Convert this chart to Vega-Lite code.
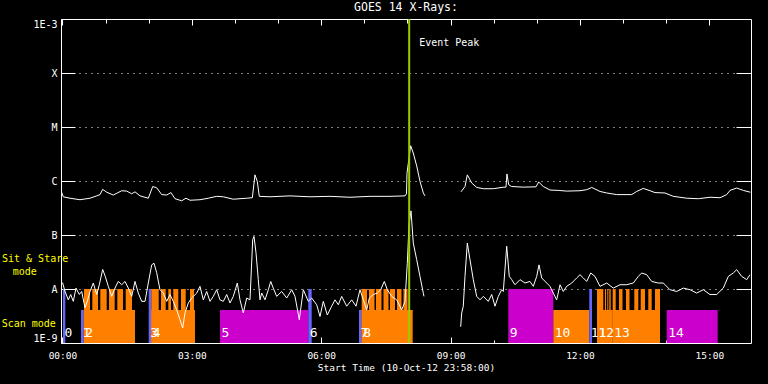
{
 "$schema": "https://vega.github.io/schema/vega-lite/v6.json",
 "width": 690,
 "height": 324,
 "autosize": {"type": "none"},
 "padding": {"left": 61, "top": 19, "right": 17, "bottom": 41},
 "background": "black",
 "title": {"text": "GOES 14 X-Rays:", "color": "white", "font": "DejaVu Sans Mono", "fontSize": 11.5, "fontWeight": "normal", "anchor": "middle", "offset": 5},
 "config": {
  "view": {"stroke": "white", "strokeWidth": 1},
  "axis": {"domain": false, "labelColor": "white", "tickColor": "white", "titleColor": "white", "labelFont": "DejaVu Sans Mono", "titleFont": "DejaVu Sans Mono", "titleFontWeight": "normal", "grid": false, "tickWidth": 1, "labelOverlap": false}
 },
 "datasets": {
  "bars": [
   {"obs": 0, "start": "2012-10-11T00:00:47Z", "end": "2012-10-11T00:03:59Z", "kind": "T3", "level": 1e-8},
   {"obs": 1, "start": "2012-10-11T00:25:50Z", "end": "2012-10-11T00:29:35Z", "kind": "T3", "level": 4.1e-9},
   {"obs": 2, "start": "2012-10-11T00:29:35Z", "end": "2012-10-11T01:40:58Z", "kind": "T1", "level": 4.1e-9},
   {"obs": 2, "start": "2012-10-11T00:30:00Z", "end": "2012-10-11T00:38:21Z", "kind": "T1", "level": 1e-8},
   {"obs": 2, "start": "2012-10-11T00:41:33Z", "end": "2012-10-11T00:49:29Z", "kind": "T1", "level": 1e-8},
   {"obs": 2, "start": "2012-10-11T00:52:41Z", "end": "2012-10-11T01:01:35Z", "kind": "T1", "level": 1e-8},
   {"obs": 2, "start": "2012-10-11T01:04:47Z", "end": "2012-10-11T01:12:43Z", "kind": "T1", "level": 1e-8},
   {"obs": 2, "start": "2012-10-11T01:16:20Z", "end": "2012-10-11T01:24:16Z", "kind": "T1", "level": 1e-8},
   {"obs": 2, "start": "2012-10-11T01:28:01Z", "end": "2012-10-11T01:36:47Z", "kind": "T1", "level": 1e-8},
   {"obs": 3, "start": "2012-10-11T02:00:01Z", "end": "2012-10-11T02:03:38Z", "kind": "T3", "level": 1e-8},
   {"obs": 4, "start": "2012-10-11T02:03:38Z", "end": "2012-10-11T03:04:26Z", "kind": "T1", "level": 4.1e-9},
   {"obs": 4, "start": "2012-10-11T02:03:38Z", "end": "2012-10-11T02:13:56Z", "kind": "T1", "level": 1e-8},
   {"obs": 4, "start": "2012-10-11T02:17:08Z", "end": "2012-10-11T02:23:40Z", "kind": "T1", "level": 1e-8},
   {"obs": 4, "start": "2012-10-11T02:27:17Z", "end": "2012-10-11T02:31:03Z", "kind": "T1", "level": 1e-8},
   {"obs": 4, "start": "2012-10-11T02:34:14Z", "end": "2012-10-11T02:41:12Z", "kind": "T1", "level": 1e-8},
   {"obs": 4, "start": "2012-10-11T02:44:57Z", "end": "2012-10-11T02:51:30Z", "kind": "T1", "level": 1e-8},
   {"obs": 4, "start": "2012-10-11T02:57:29Z", "end": "2012-10-11T03:03:03Z", "kind": "T1", "level": 1e-8},
   {"obs": 5, "start": "2012-10-11T03:39:13Z", "end": "2012-10-11T05:42:04Z", "kind": "T2", "level": 4.1e-9},
   {"obs": 6, "start": "2012-10-11T05:42:04Z", "end": "2012-10-11T05:46:48Z", "kind": "T3", "level": 1e-8},
   {"obs": 7, "start": "2012-10-11T06:52:37Z", "end": "2012-10-11T06:56:22Z", "kind": "T3", "level": 4.1e-9},
   {"obs": 8, "start": "2012-10-11T06:56:22Z", "end": "2012-10-11T08:07:19Z", "kind": "T1", "level": 4.1e-9},
   {"obs": 8, "start": "2012-10-11T06:56:22Z", "end": "2012-10-11T07:03:44Z", "kind": "T1", "level": 1e-8},
   {"obs": 8, "start": "2012-10-11T07:06:31Z", "end": "2012-10-11T07:14:10Z", "kind": "T1", "level": 1e-8},
   {"obs": 8, "start": "2012-10-11T07:16:16Z", "end": "2012-10-11T07:23:55Z", "kind": "T1", "level": 1e-8},
   {"obs": 8, "start": "2012-10-11T07:26:41Z", "end": "2012-10-11T07:33:39Z", "kind": "T1", "level": 1e-8},
   {"obs": 8, "start": "2012-10-11T07:35:44Z", "end": "2012-10-11T07:42:41Z", "kind": "T1", "level": 1e-8},
   {"obs": 8, "start": "2012-10-11T07:45:29Z", "end": "2012-10-11T07:51:44Z", "kind": "T1", "level": 1e-8},
   {"obs": 8, "start": "2012-10-11T07:54:31Z", "end": "2012-10-11T08:00:05Z", "kind": "T1", "level": 1e-8},
   {"obs": 9, "start": "2012-10-11T10:20:20Z", "end": "2012-10-11T11:22:56Z", "kind": "T2", "level": 1e-8},
   {"obs": 10, "start": "2012-10-11T11:22:56Z", "end": "2012-10-11T12:13:01Z", "kind": "T1", "level": 4.1e-9},
   {"obs": 11, "start": "2012-10-11T12:13:01Z", "end": "2012-10-11T12:16:47Z", "kind": "T3", "level": 1e-8},
   {"obs": 12, "start": "2012-10-11T12:23:44Z", "end": "2012-10-11T12:45:35Z", "kind": "T1", "level": 4.1e-9},
   {"obs": 12, "start": "2012-10-11T12:23:44Z", "end": "2012-10-11T12:32:30Z", "kind": "T1", "level": 1e-8},
   {"obs": 12, "start": "2012-10-11T12:34:52Z", "end": "2012-10-11T12:36:16Z", "kind": "T1", "level": 1e-8},
   {"obs": 12, "start": "2012-10-11T12:38:04Z", "end": "2012-10-11T12:39:28Z", "kind": "T1", "level": 1e-8},
   {"obs": 12, "start": "2012-10-11T12:40:51Z", "end": "2012-10-11T12:42:48Z", "kind": "T1", "level": 1e-8},
   {"obs": 13, "start": "2012-10-11T12:45:35Z", "end": "2012-10-11T13:51:23Z", "kind": "T1", "level": 4.1e-9},
   {"obs": 13, "start": "2012-10-11T12:45:35Z", "end": "2012-10-11T12:49:45Z", "kind": "T1", "level": 1e-8},
   {"obs": 13, "start": "2012-10-11T12:54:21Z", "end": "2012-10-11T12:59:13Z", "kind": "T1", "level": 1e-8},
   {"obs": 13, "start": "2012-10-11T13:04:05Z", "end": "2012-10-11T13:08:57Z", "kind": "T1", "level": 1e-8},
   {"obs": 13, "start": "2012-10-11T13:15:38Z", "end": "2012-10-11T13:21:12Z", "kind": "T1", "level": 1e-8},
   {"obs": 13, "start": "2012-10-11T13:24:32Z", "end": "2012-10-11T13:30:31Z", "kind": "T1", "level": 1e-8},
   {"obs": 13, "start": "2012-10-11T13:35:07Z", "end": "2012-10-11T13:39:50Z", "kind": "T1", "level": 1e-8},
   {"obs": 13, "start": "2012-10-11T13:44:26Z", "end": "2012-10-11T13:51:23Z", "kind": "T1", "level": 1e-8},
   {"obs": 14, "start": "2012-10-11T14:00:43Z", "end": "2012-10-11T15:11:40Z", "kind": "T2", "level": 4.1e-9}
  ],
  "obslabels": [
   {"n": "0", "time": "2012-10-11T00:00:47Z"},
   {"n": "1", "time": "2012-10-11T00:25:50Z"},
   {"n": "2", "time": "2012-10-11T00:29:35Z"},
   {"n": "3", "time": "2012-10-11T02:00:01Z"},
   {"n": "4", "time": "2012-10-11T02:03:38Z"},
   {"n": "5", "time": "2012-10-11T03:39:13Z"},
   {"n": "6", "time": "2012-10-11T05:42:04Z"},
   {"n": "7", "time": "2012-10-11T06:52:37Z"},
   {"n": "8", "time": "2012-10-11T06:56:22Z"},
   {"n": "9", "time": "2012-10-11T10:20:20Z"},
   {"n": "10", "time": "2012-10-11T11:22:56Z"},
   {"n": "11", "time": "2012-10-11T12:13:01Z"},
   {"n": "12", "time": "2012-10-11T12:23:44Z"},
   {"n": "13", "time": "2012-10-11T12:45:35Z"},
   {"n": "14", "time": "2012-10-11T14:00:43Z"}
  ],
  "peak": [{"label": "Event Peak", "time": "2012-10-11T08:02:26Z"}],
  "modes": [
   {"label": "Sit & Stare", "time": "2012-10-10T22:35:54Z", "flux": 3.6e-8},
   {"label": "mode", "time": "2012-10-10T22:50:48Z", "flux": 2.1e-8},
   {"label": "Scan mode", "time": "2012-10-10T22:35:30Z", "flux": 2.25e-9}
  ],
  "xray": [
   {"band": "long", "seg": 1, "time": "2012-10-10T23:58:00Z", "flux": 6.6e-7},
   {"band": "long", "seg": 1, "time": "2012-10-11T00:01:12Z", "flux": 5.1e-7},
   {"band": "long", "seg": 1, "time": "2012-10-11T00:10:30Z", "flux": 4.8e-7},
   {"band": "long", "seg": 1, "time": "2012-10-11T00:24:24Z", "flux": 4.5e-7},
   {"band": "long", "seg": 1, "time": "2012-10-11T00:38:18Z", "flux": 4.8e-7},
   {"band": "long", "seg": 1, "time": "2012-10-11T00:47:42Z", "flux": 5.3e-7},
   {"band": "long", "seg": 1, "time": "2012-10-11T00:52:18Z", "flux": 5.6e-7},
   {"band": "long", "seg": 1, "time": "2012-10-11T00:56:00Z", "flux": 7.0e-7},
   {"band": "long", "seg": 1, "time": "2012-10-11T01:01:36Z", "flux": 6.2e-7},
   {"band": "long", "seg": 1, "time": "2012-10-11T01:10:48Z", "flux": 5.5e-7},
   {"band": "long", "seg": 1, "time": "2012-10-11T01:22:30Z", "flux": 6.6e-7},
   {"band": "long", "seg": 1, "time": "2012-10-11T01:29:24Z", "flux": 6.5e-7},
   {"band": "long", "seg": 1, "time": "2012-10-11T01:36:24Z", "flux": 5.8e-7},
   {"band": "long", "seg": 1, "time": "2012-10-11T01:41:00Z", "flux": 6.3e-7},
   {"band": "long", "seg": 1, "time": "2012-10-11T01:47:54Z", "flux": 5.3e-7},
   {"band": "long", "seg": 1, "time": "2012-10-11T01:59:30Z", "flux": 4.8e-7},
   {"band": "long", "seg": 1, "time": "2012-10-11T02:05:36Z", "flux": 7.9e-7},
   {"band": "long", "seg": 1, "time": "2012-10-11T02:11:06Z", "flux": 7.5e-7},
   {"band": "long", "seg": 1, "time": "2012-10-11T02:18:06Z", "flux": 5.6e-7},
   {"band": "long", "seg": 1, "time": "2012-10-11T02:25:06Z", "flux": 5.5e-7},
   {"band": "long", "seg": 1, "time": "2012-10-11T02:31:00Z", "flux": 6.1e-7},
   {"band": "long", "seg": 1, "time": "2012-10-11T02:36:36Z", "flux": 4.7e-7},
   {"band": "long", "seg": 1, "time": "2012-10-11T02:45:54Z", "flux": 4.3e-7},
   {"band": "long", "seg": 1, "time": "2012-10-11T02:51:54Z", "flux": 4.8e-7},
   {"band": "long", "seg": 1, "time": "2012-10-11T02:57:30Z", "flux": 4.4e-7},
   {"band": "long", "seg": 1, "time": "2012-10-11T03:11:24Z", "flux": 4.5e-7},
   {"band": "long", "seg": 1, "time": "2012-10-11T03:22:54Z", "flux": 4.8e-7},
   {"band": "long", "seg": 1, "time": "2012-10-11T03:34:36Z", "flux": 5.2e-7},
   {"band": "long", "seg": 1, "time": "2012-10-11T03:43:48Z", "flux": 5.1e-7},
   {"band": "long", "seg": 1, "time": "2012-10-11T03:57:42Z", "flux": 4.6e-7},
   {"band": "long", "seg": 1, "time": "2012-10-11T04:16:24Z", "flux": 4.8e-7},
   {"band": "long", "seg": 1, "time": "2012-10-11T04:24:12Z", "flux": 4.9e-7},
   {"band": "long", "seg": 1, "time": "2012-10-11T04:27:54Z", "flux": 1.3e-6},
   {"band": "long", "seg": 1, "time": "2012-10-11T04:31:06Z", "flux": 9.8e-7},
   {"band": "long", "seg": 1, "time": "2012-10-11T04:33:54Z", "flux": 5.2e-7},
   {"band": "long", "seg": 1, "time": "2012-10-11T04:48:48Z", "flux": 5.1e-7},
   {"band": "long", "seg": 1, "time": "2012-10-11T05:16:36Z", "flux": 5.3e-7},
   {"band": "long", "seg": 1, "time": "2012-10-11T05:44:24Z", "flux": 5.1e-7},
   {"band": "long", "seg": 1, "time": "2012-10-11T06:12:18Z", "flux": 5.2e-7},
   {"band": "long", "seg": 1, "time": "2012-10-11T06:40:06Z", "flux": 5.0e-7},
   {"band": "long", "seg": 1, "time": "2012-10-11T07:07:54Z", "flux": 5.2e-7},
   {"band": "long", "seg": 1, "time": "2012-10-11T07:35:42Z", "flux": 5.2e-7},
   {"band": "long", "seg": 1, "time": "2012-10-11T07:56:36Z", "flux": 5.3e-7},
   {"band": "long", "seg": 1, "time": "2012-10-11T07:58:42Z", "flux": 5.8e-7},
   {"band": "long", "seg": 1, "time": "2012-10-11T07:59:24Z", "flux": 1.4e-6},
   {"band": "long", "seg": 1, "time": "2012-10-11T08:04:30Z", "flux": 4.5e-6},
   {"band": "long", "seg": 1, "time": "2012-10-11T08:08:06Z", "flux": 3.3e-6},
   {"band": "long", "seg": 1, "time": "2012-10-11T08:12:54Z", "flux": 1.9e-6},
   {"band": "long", "seg": 1, "time": "2012-10-11T08:17:30Z", "flux": 9.8e-7},
   {"band": "long", "seg": 1, "time": "2012-10-11T08:22:06Z", "flux": 6.0e-7},
   {"band": "long", "seg": 1, "time": "2012-10-11T08:24:24Z", "flux": 5.3e-7},
   {"band": "long", "seg": 2, "time": "2012-10-11T09:14:30Z", "flux": 6.3e-7},
   {"band": "long", "seg": 2, "time": "2012-10-11T09:20:06Z", "flux": 7.9e-7},
   {"band": "long", "seg": 2, "time": "2012-10-11T09:23:18Z", "flux": 1.3e-6},
   {"band": "long", "seg": 2, "time": "2012-10-11T09:29:24Z", "flux": 9.2e-7},
   {"band": "long", "seg": 2, "time": "2012-10-11T09:36:24Z", "flux": 7.6e-7},
   {"band": "long", "seg": 2, "time": "2012-10-11T09:45:36Z", "flux": 7.2e-7},
   {"band": "long", "seg": 2, "time": "2012-10-11T09:59:30Z", "flux": 7.2e-7},
   {"band": "long", "seg": 2, "time": "2012-10-11T10:14:18Z", "flux": 7.7e-7},
   {"band": "long", "seg": 2, "time": "2012-10-11T10:17:06Z", "flux": 7.7e-7},
   {"band": "long", "seg": 2, "time": "2012-10-11T10:18:30Z", "flux": 1.35e-6},
   {"band": "long", "seg": 2, "time": "2012-10-11T10:20:54Z", "flux": 8.5e-7},
   {"band": "long", "seg": 2, "time": "2012-10-11T10:25:06Z", "flux": 7.9e-7},
   {"band": "long", "seg": 2, "time": "2012-10-11T10:41:12Z", "flux": 7.7e-7},
   {"band": "long", "seg": 2, "time": "2012-10-11T10:58:54Z", "flux": 7.8e-7},
   {"band": "long", "seg": 2, "time": "2012-10-11T11:02:36Z", "flux": 9.6e-7},
   {"band": "long", "seg": 2, "time": "2012-10-11T11:09:00Z", "flux": 7.9e-7},
   {"band": "long", "seg": 2, "time": "2012-10-11T11:18:24Z", "flux": 6.8e-7},
   {"band": "long", "seg": 2, "time": "2012-10-11T11:29:54Z", "flux": 6.7e-7},
   {"band": "long", "seg": 2, "time": "2012-10-11T11:41:36Z", "flux": 6.5e-7},
   {"band": "long", "seg": 2, "time": "2012-10-11T12:00:06Z", "flux": 6.6e-7},
   {"band": "long", "seg": 2, "time": "2012-10-11T12:09:24Z", "flux": 6.9e-7},
   {"band": "long", "seg": 2, "time": "2012-10-11T12:16:24Z", "flux": 7.6e-7},
   {"band": "long", "seg": 2, "time": "2012-10-11T12:27:54Z", "flux": 6.4e-7},
   {"band": "long", "seg": 2, "time": "2012-10-11T12:37:12Z", "flux": 6.0e-7},
   {"band": "long", "seg": 2, "time": "2012-10-11T12:51:06Z", "flux": 5.6e-7},
   {"band": "long", "seg": 2, "time": "2012-10-11T13:12:00Z", "flux": 5.6e-7},
   {"band": "long", "seg": 2, "time": "2012-10-11T13:19:00Z", "flux": 6.4e-7},
   {"band": "long", "seg": 2, "time": "2012-10-11T13:28:06Z", "flux": 7.3e-7},
   {"band": "long", "seg": 2, "time": "2012-10-11T13:37:30Z", "flux": 6.6e-7},
   {"band": "long", "seg": 2, "time": "2012-10-11T13:44:24Z", "flux": 6.1e-7},
   {"band": "long", "seg": 2, "time": "2012-10-11T13:58:18Z", "flux": 6.0e-7},
   {"band": "long", "seg": 2, "time": "2012-10-11T14:09:54Z", "flux": 5.2e-7},
   {"band": "long", "seg": 2, "time": "2012-10-11T14:28:30Z", "flux": 4.8e-7},
   {"band": "long", "seg": 2, "time": "2012-10-11T14:44:42Z", "flux": 4.7e-7},
   {"band": "long", "seg": 2, "time": "2012-10-11T15:01:00Z", "flux": 5.0e-7},
   {"band": "long", "seg": 2, "time": "2012-10-11T15:14:54Z", "flux": 4.9e-7},
   {"band": "long", "seg": 2, "time": "2012-10-11T15:24:12Z", "flux": 5.6e-7},
   {"band": "long", "seg": 2, "time": "2012-10-11T15:28:48Z", "flux": 6.7e-7},
   {"band": "long", "seg": 2, "time": "2012-10-11T15:38:06Z", "flux": 7.4e-7},
   {"band": "long", "seg": 2, "time": "2012-10-11T15:47:18Z", "flux": 6.7e-7},
   {"band": "long", "seg": 2, "time": "2012-10-11T15:57:00Z", "flux": 6.2e-7},
   {"band": "short", "seg": 1, "time": "2012-10-10T23:58:00Z", "flux": 1.3e-8},
   {"band": "short", "seg": 1, "time": "2012-10-11T00:00:22Z", "flux": 1.29e-8},
   {"band": "short", "seg": 1, "time": "2012-10-11T00:03:34Z", "flux": 9.0e-9},
   {"band": "short", "seg": 1, "time": "2012-10-11T00:08:10Z", "flux": 6.3e-9},
   {"band": "short", "seg": 1, "time": "2012-10-11T00:11:30Z", "flux": 7.9e-9},
   {"band": "short", "seg": 1, "time": "2012-10-11T00:15:07Z", "flux": 5.9e-9},
   {"band": "short", "seg": 1, "time": "2012-10-11T00:18:52Z", "flux": 1.04e-8},
   {"band": "short", "seg": 1, "time": "2012-10-11T00:23:28Z", "flux": 7.9e-9},
   {"band": "short", "seg": 1, "time": "2012-10-11T00:26:48Z", "flux": 9.0e-9},
   {"band": "short", "seg": 1, "time": "2012-10-11T00:31:23Z", "flux": 4.5e-9},
   {"band": "short", "seg": 1, "time": "2012-10-11T00:34:35Z", "flux": 5.9e-9},
   {"band": "short", "seg": 1, "time": "2012-10-11T00:38:21Z", "flux": 9.0e-9},
   {"band": "short", "seg": 1, "time": "2012-10-11T00:42:56Z", "flux": 1.29e-8},
   {"band": "short", "seg": 1, "time": "2012-10-11T00:47:40Z", "flux": 7.9e-9},
   {"band": "short", "seg": 1, "time": "2012-10-11T00:51:17Z", "flux": 1.2e-8},
   {"band": "short", "seg": 1, "time": "2012-10-11T00:56:01Z", "flux": 2.3e-8},
   {"band": "short", "seg": 1, "time": "2012-10-11T00:59:38Z", "flux": 1.7e-8},
   {"band": "short", "seg": 1, "time": "2012-10-11T01:03:49Z", "flux": 1.12e-8},
   {"band": "short", "seg": 1, "time": "2012-10-11T01:08:32Z", "flux": 7.3e-9},
   {"band": "short", "seg": 1, "time": "2012-10-11T01:13:08Z", "flux": 1.04e-8},
   {"band": "short", "seg": 1, "time": "2012-10-11T01:17:43Z", "flux": 1.38e-8},
   {"band": "short", "seg": 1, "time": "2012-10-11T01:22:27Z", "flux": 1.2e-8},
   {"band": "short", "seg": 1, "time": "2012-10-11T01:27:02Z", "flux": 1.38e-8},
   {"band": "short", "seg": 1, "time": "2012-10-11T01:31:38Z", "flux": 1.04e-8},
   {"band": "short", "seg": 1, "time": "2012-10-11T01:36:22Z", "flux": 7.3e-9},
   {"band": "short", "seg": 1, "time": "2012-10-11T01:40:58Z", "flux": 1.38e-8},
   {"band": "short", "seg": 1, "time": "2012-10-11T01:45:33Z", "flux": 8.4e-9},
   {"band": "short", "seg": 1, "time": "2012-10-11T01:50:17Z", "flux": 5.9e-9},
   {"band": "short", "seg": 1, "time": "2012-10-11T01:54:52Z", "flux": 5.9e-9},
   {"band": "short", "seg": 1, "time": "2012-10-11T01:59:28Z", "flux": 1.29e-8},
   {"band": "short", "seg": 1, "time": "2012-10-11T02:04:11Z", "flux": 2.8e-8},
   {"band": "short", "seg": 1, "time": "2012-10-11T02:07:23Z", "flux": 3.0e-8},
   {"band": "short", "seg": 1, "time": "2012-10-11T02:11:09Z", "flux": 2.0e-8},
   {"band": "short", "seg": 1, "time": "2012-10-11T02:15:44Z", "flux": 9.7e-9},
   {"band": "short", "seg": 1, "time": "2012-10-11T02:20:20Z", "flux": 8.4e-9},
   {"band": "short", "seg": 1, "time": "2012-10-11T02:25:04Z", "flux": 5.9e-9},
   {"band": "short", "seg": 1, "time": "2012-10-11T02:29:39Z", "flux": 7.9e-9},
   {"band": "short", "seg": 1, "time": "2012-10-11T02:34:14Z", "flux": 5.9e-9},
   {"band": "short", "seg": 1, "time": "2012-10-11T02:38:58Z", "flux": 4.1e-9},
   {"band": "short", "seg": 1, "time": "2012-10-11T02:43:34Z", "flux": 2.7e-9},
   {"band": "short", "seg": 1, "time": "2012-10-11T02:47:19Z", "flux": 1.9e-9},
   {"band": "short", "seg": 1, "time": "2012-10-11T02:50:31Z", "flux": 3.6e-9},
   {"band": "short", "seg": 1, "time": "2012-10-11T02:55:07Z", "flux": 5.5e-9},
   {"band": "short", "seg": 1, "time": "2012-10-11T02:59:50Z", "flux": 6.8e-9},
   {"band": "short", "seg": 1, "time": "2012-10-11T03:06:48Z", "flux": 8.4e-9},
   {"band": "short", "seg": 1, "time": "2012-10-11T03:11:23Z", "flux": 1.12e-8},
   {"band": "short", "seg": 1, "time": "2012-10-11T03:15:59Z", "flux": 6.3e-9},
   {"band": "short", "seg": 1, "time": "2012-10-11T03:20:43Z", "flux": 9.0e-9},
   {"band": "short", "seg": 1, "time": "2012-10-11T03:25:18Z", "flux": 5.9e-9},
   {"band": "short", "seg": 1, "time": "2012-10-11T03:29:53Z", "flux": 7.3e-9},
   {"band": "short", "seg": 1, "time": "2012-10-11T03:34:37Z", "flux": 9.7e-9},
   {"band": "short", "seg": 1, "time": "2012-10-11T03:39:13Z", "flux": 6.3e-9},
   {"band": "short", "seg": 1, "time": "2012-10-11T03:43:49Z", "flux": 5.9e-9},
   {"band": "short", "seg": 1, "time": "2012-10-11T03:48:32Z", "flux": 7.9e-9},
   {"band": "short", "seg": 1, "time": "2012-10-11T03:53:08Z", "flux": 5.5e-9},
   {"band": "short", "seg": 1, "time": "2012-10-11T03:57:43Z", "flux": 7.3e-9},
   {"band": "short", "seg": 1, "time": "2012-10-11T04:03:17Z", "flux": 1.29e-8},
   {"band": "short", "seg": 1, "time": "2012-10-11T04:07:02Z", "flux": 6.3e-9},
   {"band": "short", "seg": 1, "time": "2012-10-11T04:11:38Z", "flux": 3.6e-9},
   {"band": "short", "seg": 1, "time": "2012-10-11T04:16:22Z", "flux": 6.8e-9},
   {"band": "short", "seg": 1, "time": "2012-10-11T04:20:58Z", "flux": 6.3e-9},
   {"band": "short", "seg": 1, "time": "2012-10-11T04:24:43Z", "flux": 8.2e-8},
   {"band": "short", "seg": 1, "time": "2012-10-11T04:26:31Z", "flux": 9.4e-8},
   {"band": "short", "seg": 1, "time": "2012-10-11T04:29:18Z", "flux": 4.7e-8},
   {"band": "short", "seg": 1, "time": "2012-10-11T04:32:30Z", "flux": 1.49e-8},
   {"band": "short", "seg": 1, "time": "2012-10-11T04:34:52Z", "flux": 6.3e-9},
   {"band": "short", "seg": 1, "time": "2012-10-11T04:37:14Z", "flux": 8.4e-9},
   {"band": "short", "seg": 1, "time": "2012-10-11T04:41:50Z", "flux": 6.3e-9},
   {"band": "short", "seg": 1, "time": "2012-10-11T04:46:25Z", "flux": 9.7e-9},
   {"band": "short", "seg": 1, "time": "2012-10-11T04:49:46Z", "flux": 1.38e-8},
   {"band": "short", "seg": 1, "time": "2012-10-11T04:53:22Z", "flux": 1.04e-8},
   {"band": "short", "seg": 1, "time": "2012-10-11T04:58:06Z", "flux": 7.3e-9},
   {"band": "short", "seg": 1, "time": "2012-10-11T05:05:04Z", "flux": 9.0e-9},
   {"band": "short", "seg": 1, "time": "2012-10-11T05:12:01Z", "flux": 6.8e-9},
   {"band": "short", "seg": 1, "time": "2012-10-11T05:18:58Z", "flux": 9.7e-9},
   {"band": "short", "seg": 1, "time": "2012-10-11T05:23:34Z", "flux": 7.3e-9},
   {"band": "short", "seg": 1, "time": "2012-10-11T05:29:32Z", "flux": 2.7e-9},
   {"band": "short", "seg": 1, "time": "2012-10-11T05:35:07Z", "flux": 9.7e-9},
   {"band": "short", "seg": 1, "time": "2012-10-11T05:42:04Z", "flux": 5.9e-9},
   {"band": "short", "seg": 1, "time": "2012-10-11T05:46:48Z", "flux": 6.8e-9},
   {"band": "short", "seg": 1, "time": "2012-10-11T05:53:46Z", "flux": 5.1e-9},
   {"band": "short", "seg": 1, "time": "2012-10-11T05:58:21Z", "flux": 3.1e-9},
   {"band": "short", "seg": 1, "time": "2012-10-11T06:02:56Z", "flux": 5.9e-9},
   {"band": "short", "seg": 1, "time": "2012-10-11T06:08:31Z", "flux": 3.3e-9},
   {"band": "short", "seg": 1, "time": "2012-10-11T06:14:38Z", "flux": 4.8e-9},
   {"band": "short", "seg": 1, "time": "2012-10-11T06:19:13Z", "flux": 6.3e-9},
   {"band": "short", "seg": 1, "time": "2012-10-11T06:23:49Z", "flux": 5.1e-9},
   {"band": "short", "seg": 1, "time": "2012-10-11T06:28:32Z", "flux": 7.3e-9},
   {"band": "short", "seg": 1, "time": "2012-10-11T06:35:30Z", "flux": 4.8e-9},
   {"band": "short", "seg": 1, "time": "2012-10-11T06:42:28Z", "flux": 6.3e-9},
   {"band": "short", "seg": 1, "time": "2012-10-11T06:48:26Z", "flux": 4.8e-9},
   {"band": "short", "seg": 1, "time": "2012-10-11T06:54:01Z", "flux": 9.7e-9},
   {"band": "short", "seg": 1, "time": "2012-10-11T06:58:36Z", "flux": 6.3e-9},
   {"band": "short", "seg": 1, "time": "2012-10-11T07:03:20Z", "flux": 4.1e-9},
   {"band": "short", "seg": 1, "time": "2012-10-11T07:06:57Z", "flux": 6.8e-9},
   {"band": "short", "seg": 1, "time": "2012-10-11T07:12:31Z", "flux": 7.9e-9},
   {"band": "short", "seg": 1, "time": "2012-10-11T07:18:05Z", "flux": 8.4e-9},
   {"band": "short", "seg": 1, "time": "2012-10-11T07:22:49Z", "flux": 9.7e-9},
   {"band": "short", "seg": 1, "time": "2012-10-11T07:27:49Z", "flux": 1.38e-8},
   {"band": "short", "seg": 1, "time": "2012-10-11T07:31:59Z", "flux": 9.7e-9},
   {"band": "short", "seg": 1, "time": "2012-10-11T07:38:07Z", "flux": 7.3e-9},
   {"band": "short", "seg": 1, "time": "2012-10-11T07:45:04Z", "flux": 6.3e-9},
   {"band": "short", "seg": 1, "time": "2012-10-11T07:52:02Z", "flux": 4.1e-9},
   {"band": "short", "seg": 1, "time": "2012-10-11T07:56:37Z", "flux": 5.9e-9},
   {"band": "short", "seg": 1, "time": "2012-10-11T07:59:49Z", "flux": 3.0e-8},
   {"band": "short", "seg": 1, "time": "2012-10-11T08:02:11Z", "flux": 1.55e-7},
   {"band": "short", "seg": 1, "time": "2012-10-11T08:04:58Z", "flux": 2.8e-7},
   {"band": "short", "seg": 1, "time": "2012-10-11T08:08:08Z", "flux": 7.1e-8},
   {"band": "short", "seg": 1, "time": "2012-10-11T08:12:52Z", "flux": 3.5e-8},
   {"band": "short", "seg": 1, "time": "2012-10-11T08:17:28Z", "flux": 1.71e-8},
   {"band": "short", "seg": 1, "time": "2012-10-11T08:22:03Z", "flux": 8.4e-9},
   {"band": "short", "seg": 1, "time": "2012-10-11T08:23:01Z", "flux": 7.3e-9},
   {"band": "short", "seg": 2, "time": "2012-10-11T09:14:06Z", "flux": 2.0e-9},
   {"band": "short", "seg": 2, "time": "2012-10-11T09:15:29Z", "flux": 3.6e-9},
   {"band": "short", "seg": 2, "time": "2012-10-11T09:17:43Z", "flux": 4.8e-9},
   {"band": "short", "seg": 2, "time": "2012-10-11T09:20:05Z", "flux": 1.71e-8},
   {"band": "short", "seg": 2, "time": "2012-10-11T09:23:17Z", "flux": 7.1e-8},
   {"band": "short", "seg": 2, "time": "2012-10-11T09:27:02Z", "flux": 3.5e-8},
   {"band": "short", "seg": 2, "time": "2012-10-11T09:31:38Z", "flux": 1.49e-8},
   {"band": "short", "seg": 2, "time": "2012-10-11T09:36:22Z", "flux": 7.3e-9},
   {"band": "short", "seg": 2, "time": "2012-10-11T09:40:58Z", "flux": 6.3e-9},
   {"band": "short", "seg": 2, "time": "2012-10-11T09:45:33Z", "flux": 7.3e-9},
   {"band": "short", "seg": 2, "time": "2012-10-11T09:52:31Z", "flux": 5.9e-9},
   {"band": "short", "seg": 2, "time": "2012-10-11T09:57:14Z", "flux": 7.9e-9},
   {"band": "short", "seg": 2, "time": "2012-10-11T10:01:50Z", "flux": 4.8e-9},
   {"band": "short", "seg": 2, "time": "2012-10-11T10:06:25Z", "flux": 7.3e-9},
   {"band": "short", "seg": 2, "time": "2012-10-11T10:11:09Z", "flux": 9.7e-9},
   {"band": "short", "seg": 2, "time": "2012-10-11T10:13:23Z", "flux": 9.0e-9},
   {"band": "short", "seg": 2, "time": "2012-10-11T10:18:07Z", "flux": 6.2e-8},
   {"band": "short", "seg": 2, "time": "2012-10-11T10:21:43Z", "flux": 1.71e-8},
   {"band": "short", "seg": 2, "time": "2012-10-11T10:25:04Z", "flux": 1.49e-8},
   {"band": "short", "seg": 2, "time": "2012-10-11T10:29:39Z", "flux": 1.2e-8},
   {"band": "short", "seg": 2, "time": "2012-10-11T10:36:37Z", "flux": 1.49e-8},
   {"band": "short", "seg": 2, "time": "2012-10-11T10:43:34Z", "flux": 1.29e-8},
   {"band": "short", "seg": 2, "time": "2012-10-11T10:50:31Z", "flux": 1.38e-8},
   {"band": "short", "seg": 2, "time": "2012-10-11T10:55:07Z", "flux": 1.12e-8},
   {"band": "short", "seg": 2, "time": "2012-10-11T10:59:50Z", "flux": 1.71e-8},
   {"band": "short", "seg": 2, "time": "2012-10-11T11:03:02Z", "flux": 2.8e-8},
   {"band": "short", "seg": 2, "time": "2012-10-11T11:06:48Z", "flux": 1.6e-8},
   {"band": "short", "seg": 2, "time": "2012-10-11T11:13:45Z", "flux": 1.29e-8},
   {"band": "short", "seg": 2, "time": "2012-10-11T11:18:21Z", "flux": 1.12e-8},
   {"band": "short", "seg": 2, "time": "2012-10-11T11:22:56Z", "flux": 8.4e-9},
   {"band": "short", "seg": 2, "time": "2012-10-11T11:27:40Z", "flux": 6.3e-9},
   {"band": "short", "seg": 2, "time": "2012-10-11T11:32:16Z", "flux": 1.2e-8},
   {"band": "short", "seg": 2, "time": "2012-10-11T11:36:51Z", "flux": 9.0e-9},
   {"band": "short", "seg": 2, "time": "2012-10-11T11:41:35Z", "flux": 1.12e-8},
   {"band": "short", "seg": 2, "time": "2012-10-11T11:48:32Z", "flux": 1.29e-8},
   {"band": "short", "seg": 2, "time": "2012-10-11T11:55:29Z", "flux": 1.6e-8},
   {"band": "short", "seg": 2, "time": "2012-10-11T12:00:05Z", "flux": 1.84e-8},
   {"band": "short", "seg": 2, "time": "2012-10-11T12:04:41Z", "flux": 1.6e-8},
   {"band": "short", "seg": 2, "time": "2012-10-11T12:09:25Z", "flux": 1.38e-8},
   {"band": "short", "seg": 2, "time": "2012-10-11T12:14:59Z", "flux": 1.98e-8},
   {"band": "short", "seg": 2, "time": "2012-10-11T12:20:57Z", "flux": 1.71e-8},
   {"band": "short", "seg": 2, "time": "2012-10-11T12:27:55Z", "flux": 1.12e-8},
   {"band": "short", "seg": 2, "time": "2012-10-11T12:37:14Z", "flux": 1.29e-8},
   {"band": "short", "seg": 2, "time": "2012-10-11T12:46:25Z", "flux": 1.04e-8},
   {"band": "short", "seg": 2, "time": "2012-10-11T12:55:44Z", "flux": 1.2e-8},
   {"band": "short", "seg": 2, "time": "2012-10-11T13:05:03Z", "flux": 1.2e-8},
   {"band": "short", "seg": 2, "time": "2012-10-11T13:14:14Z", "flux": 1.29e-8},
   {"band": "short", "seg": 2, "time": "2012-10-11T13:21:12Z", "flux": 1.71e-8},
   {"band": "short", "seg": 2, "time": "2012-10-11T13:25:55Z", "flux": 1.98e-8},
   {"band": "short", "seg": 2, "time": "2012-10-11T13:32:53Z", "flux": 1.84e-8},
   {"band": "short", "seg": 2, "time": "2012-10-11T13:39:50Z", "flux": 1.38e-8},
   {"band": "short", "seg": 2, "time": "2012-10-11T13:49:01Z", "flux": 1.29e-8},
   {"band": "short", "seg": 2, "time": "2012-10-11T13:55:59Z", "flux": 1.29e-8},
   {"band": "short", "seg": 2, "time": "2012-10-11T14:05:18Z", "flux": 9.7e-9},
   {"band": "short", "seg": 2, "time": "2012-10-11T14:14:37Z", "flux": 9.0e-9},
   {"band": "short", "seg": 2, "time": "2012-10-11T14:23:48Z", "flux": 1.04e-8},
   {"band": "short", "seg": 2, "time": "2012-10-11T14:33:08Z", "flux": 9.7e-9},
   {"band": "short", "seg": 2, "time": "2012-10-11T14:42:27Z", "flux": 8.4e-9},
   {"band": "short", "seg": 2, "time": "2012-10-11T14:51:38Z", "flux": 9.7e-9},
   {"band": "short", "seg": 2, "time": "2012-10-11T15:00:57Z", "flux": 7.9e-9},
   {"band": "short", "seg": 2, "time": "2012-10-11T15:10:16Z", "flux": 7.9e-9},
   {"band": "short", "seg": 2, "time": "2012-10-11T15:19:27Z", "flux": 1.04e-8},
   {"band": "short", "seg": 2, "time": "2012-10-11T15:26:25Z", "flux": 1.71e-8},
   {"band": "short", "seg": 2, "time": "2012-10-11T15:33:22Z", "flux": 1.98e-8},
   {"band": "short", "seg": 2, "time": "2012-10-11T15:38:06Z", "flux": 2.28e-8},
   {"band": "short", "seg": 2, "time": "2012-10-11T15:45:04Z", "flux": 1.71e-8},
   {"band": "short", "seg": 2, "time": "2012-10-11T15:52:01Z", "flux": 1.49e-8},
   {"band": "short", "seg": 2, "time": "2012-10-11T15:56:36Z", "flux": 1.84e-8}
  ]
 },
 "resolve": {"axis": {"x": "independent", "y": "independent"}},
 "layer": [
  {
   "data": {"name": "bars"},
   "mark": {"type": "rect"},
   "encoding": {
    "x": {"field": "start", "type": "temporal",
     "scale": {"type": "utc", "domain": [{"year": 2012, "month": 10, "date": 10, "hours": 23, "minutes": 58, "utc": true}, {"year": 2012, "month": 10, "date": 11, "hours": 15, "minutes": 58, "utc": true}]},
     "axis": {"orient": "bottom", "values": [{"year": 2012, "month": 10, "date": 11, "hours": 0, "utc": true}, {"year": 2012, "month": 10, "date": 11, "hours": 3, "utc": true}, {"year": 2012, "month": 10, "date": 11, "hours": 6, "utc": true}, {"year": 2012, "month": 10, "date": 11, "hours": 9, "utc": true}, {"year": 2012, "month": 10, "date": 11, "hours": 12, "utc": true}, {"year": 2012, "month": 10, "date": 11, "hours": 15, "utc": true}],
      "format": "%H:%M", "tickSize": -6, "labelPadding": 13, "labelFontSize": 9.5, "labelFlush": false, "title": "Start Time (10-Oct-12 23:58:00)", "titleFontSize": 9.5, "titlePadding": 3}},
    "x2": {"field": "end"},
    "y": {"field": "level", "type": "quantitative",
     "scale": {"type": "log", "domain": [1e-9, 1e-3], "nice": false},
     "axis": {"orient": "left", "values": [1e-9, 1e-8, 1e-7, 1e-6, 1e-5, 1e-4, 1e-3],
      "labelExpr": "datum.value < 3e-9 ? '1E-9' : datum.value < 3e-8 ? 'A' : datum.value < 3e-7 ? 'B' : datum.value < 3e-6 ? 'C' : datum.value < 3e-5 ? 'M' : datum.value < 3e-4 ? 'X' : '1E-3'",
      "tickSize": -14, "labelPadding": 18, "labelFontSize": 10, "labelFlush": true, "title": null,
      "grid": true, "gridColor": "white", "gridDash": [1, 5], "gridOpacity": 1}},
    "y2": {"datum": 1e-9},
    "color": {"field": "kind", "type": "nominal", "scale": {"domain": ["T1", "T2", "T3"], "range": ["#ff8000", "#cc00cc", "#6666ff"]}, "legend": null}
   }
  },
  {
   "data": {"name": "obslabels"},
   "mark": {"type": "text", "color": "white", "font": "DejaVu Sans Mono", "fontSize": 13, "align": "left", "baseline": "middle", "dx": 1.5},
   "encoding": {
    "x": {"field": "time", "type": "temporal",
     "scale": {"type": "utc", "domain": [{"year": 2012, "month": 10, "date": 10, "hours": 23, "minutes": 58, "utc": true}, {"year": 2012, "month": 10, "date": 11, "hours": 15, "minutes": 58, "utc": true}]},
     "axis": {"orient": "bottom", "values": [{"year": 2012, "month": 10, "date": 11, "hours": 1, "utc": true}, {"year": 2012, "month": 10, "date": 11, "hours": 2, "utc": true}, {"year": 2012, "month": 10, "date": 11, "hours": 4, "utc": true}, {"year": 2012, "month": 10, "date": 11, "hours": 5, "utc": true}, {"year": 2012, "month": 10, "date": 11, "hours": 7, "utc": true}, {"year": 2012, "month": 10, "date": 11, "hours": 8, "utc": true}, {"year": 2012, "month": 10, "date": 11, "hours": 10, "utc": true}, {"year": 2012, "month": 10, "date": 11, "hours": 11, "utc": true}, {"year": 2012, "month": 10, "date": 11, "hours": 13, "utc": true}, {"year": 2012, "month": 10, "date": 11, "hours": 14, "utc": true}],
      "labels": false, "tickSize": -3, "title": null}},
    "y": {"datum": 1.55e-9, "type": "quantitative", "scale": {"type": "log", "domain": [1e-9, 1e-3], "nice": false}, "axis": null},
    "text": {"field": "n"}
   }
  },
  {
   "data": {"name": "xray"},
   "mark": {"type": "line", "color": "white", "strokeWidth": 1, "clip": true},
   "encoding": {
    "x": {"field": "time", "type": "temporal",
     "scale": {"type": "utc", "domain": [{"year": 2012, "month": 10, "date": 10, "hours": 23, "minutes": 58, "utc": true}, {"year": 2012, "month": 10, "date": 11, "hours": 15, "minutes": 58, "utc": true}]},
     "axis": {"orient": "top", "values": [{"year": 2012, "month": 10, "date": 11, "hours": 0, "utc": true}, {"year": 2012, "month": 10, "date": 11, "hours": 3, "utc": true}, {"year": 2012, "month": 10, "date": 11, "hours": 6, "utc": true}, {"year": 2012, "month": 10, "date": 11, "hours": 9, "utc": true}, {"year": 2012, "month": 10, "date": 11, "hours": 12, "utc": true}, {"year": 2012, "month": 10, "date": 11, "hours": 15, "utc": true}],
      "labels": false, "tickSize": -6, "title": null}},
    "y": {"field": "flux", "type": "quantitative",
     "scale": {"type": "log", "domain": [1e-9, 1e-3], "nice": false},
     "axis": {"orient": "right", "values": [1e-8, 1e-7, 1e-6, 1e-5, 1e-4], "labels": false, "tickSize": -15, "title": null}},
    "detail": [{"field": "band"}, {"field": "seg"}]
   }
  },
  {
   "data": {"name": "peak"},
   "mark": {"type": "rule", "color": "#99cc00", "strokeWidth": 2},
   "encoding": {
    "x": {"field": "time", "type": "temporal",
     "scale": {"type": "utc", "domain": [{"year": 2012, "month": 10, "date": 10, "hours": 23, "minutes": 58, "utc": true}, {"year": 2012, "month": 10, "date": 11, "hours": 15, "minutes": 58, "utc": true}]},
     "axis": {"orient": "top", "values": [{"year": 2012, "month": 10, "date": 11, "hours": 1, "utc": true}, {"year": 2012, "month": 10, "date": 11, "hours": 2, "utc": true}, {"year": 2012, "month": 10, "date": 11, "hours": 4, "utc": true}, {"year": 2012, "month": 10, "date": 11, "hours": 5, "utc": true}, {"year": 2012, "month": 10, "date": 11, "hours": 7, "utc": true}, {"year": 2012, "month": 10, "date": 11, "hours": 8, "utc": true}, {"year": 2012, "month": 10, "date": 11, "hours": 10, "utc": true}, {"year": 2012, "month": 10, "date": 11, "hours": 11, "utc": true}, {"year": 2012, "month": 10, "date": 11, "hours": 13, "utc": true}, {"year": 2012, "month": 10, "date": 11, "hours": 14, "utc": true}],
      "labels": false, "tickSize": -4, "title": null}}
   }
  },
  {
   "data": {"name": "peak"},
   "mark": {"type": "text", "color": "white", "font": "DejaVu Sans Mono", "fontSize": 10, "align": "left", "baseline": "middle", "dx": 10},
   "encoding": {
    "x": {"field": "time", "type": "temporal", "scale": {"type": "utc", "domain": [{"year": 2012, "month": 10, "date": 10, "hours": 23, "minutes": 58, "utc": true}, {"year": 2012, "month": 10, "date": 11, "hours": 15, "minutes": 58, "utc": true}]}, "axis": null},
    "y": {"datum": 3.6e-4, "type": "quantitative", "scale": {"type": "log", "domain": [1e-9, 1e-3], "nice": false}, "axis": null},
    "text": {"field": "label"}
   }
  },
  {
   "data": {"name": "modes"},
   "mark": {"type": "text", "color": "#ffff00", "font": "DejaVu Sans Mono", "fontSize": 10, "align": "left", "baseline": "middle"},
   "encoding": {
    "x": {"field": "time", "type": "temporal", "scale": {"type": "utc", "domain": [{"year": 2012, "month": 10, "date": 10, "hours": 23, "minutes": 58, "utc": true}, {"year": 2012, "month": 10, "date": 11, "hours": 15, "minutes": 58, "utc": true}]}, "axis": null},
    "y": {"field": "flux", "type": "quantitative", "scale": {"type": "log", "domain": [1e-9, 1e-3], "nice": false}, "axis": null},
    "text": {"field": "label"}
   }
  }
 ]
}
